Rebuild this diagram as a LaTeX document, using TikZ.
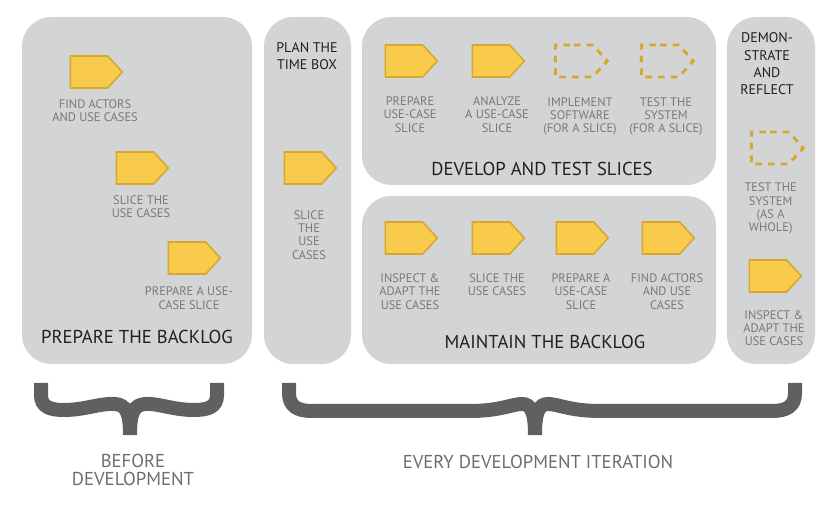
\documentclass[tikz,border=0pt]{standalone}
\usepackage{fontspec}
\setmainfont{PT Sans}
\usepackage{tikz}
\usetikzlibrary{shapes.symbols,positioning}

\definecolor{panelgray}{RGB}{211,212,214}
\definecolor{slicefill}{RGB}{249,203,77}
\definecolor{sliceedge}{RGB}{214,168,45}
\definecolor{labelgray}{RGB}{120,121,124}
\definecolor{titledark}{RGB}{35,31,32}
\definecolor{bracegray}{RGB}{96,96,99}
\definecolor{notegray}{RGB}{108,109,112}

\begin{document}
\begin{tikzpicture}[x=0.75pt,y=-0.75pt,
                    panel/.style={fill=panelgray,rounded corners=22pt},
                    bracket/.style={draw=bracegray,line width=10.5pt}]
  \tikzstyle{slice}=[signal,signal to=east,signal pointer angle=95,
                     minimum width=39pt,minimum height=24pt,inner sep=0pt,
                     fill=slicefill,draw=sliceedge,line width=1.2pt]
  \tikzstyle{todo}=[slice,fill=none,line width=2.2pt,dash pattern=on 5pt off 4.5pt]
  \tikzstyle{lbl}=[text=labelgray,font=\fontsize{9.3}{10}\selectfont,align=center,
                   inner sep=0pt,xshift=4.5pt]
  \tikzstyle{bigtitle}=[text=titledark,font=\fontsize{14}{16}\selectfont,inner sep=0pt]
  \tikzstyle{heading}=[text=titledark,font=\fontsize{10.5}{13}\selectfont,align=center,inner sep=0pt]
  \tikzstyle{note}=[text=notegray,font=\fontsize{14}{13.5}\selectfont,align=center,inner sep=0pt]

  \useasboundingbox (0,0) rectangle (833,505);

  % panels
  \fill[panel] (22,17)  rectangle (252,364);
  \fill[panel] (264,17) rectangle (351,364);
  \fill[panel] (362,17) rectangle (716,185);
  \fill[panel] (362,196) rectangle (716,364);
  \fill[panel] (727,17) rectangle (815,364);

  % prepare the backlog
  \node[slice] (pb1) at (89,72)   {};
  \node[slice] (pb2) at (135,168) {};
  \node[slice] (pb3) at (187,258) {};
  \node[lbl] (pl1) [below=8pt of pb1] {FIND ACTORS\\AND USE CASES};
  \node[lbl] (pl2) [below=8pt of pb2] {SLICE THE\\USE CASES};
  \node[lbl] (pl3) [below=9pt of pb3,xshift=-3pt] {PREPARE A USE-\\CASE SLICE};
  \node[bigtitle] (prep) at (137,337) {PREPARE THE BACKLOG};

  % plan the time box
  \node[heading] (plan) at (307,56) {PLAN THE\\TIME BOX};
  \node[slice] (tb1) at (303,168) {};
  \node[lbl] (tl1) [below=19pt of tb1] {SLICE\\THE\\USE\\CASES};

  % develop and test slices
  \node[slice] (ds1) at (404,61) {};
  \node[slice] (ds2) at (491,61) {};
  \node[todo]  (ds3) at (574,61) {};
  \node[todo]  (ds4) at (660,61) {};
  \node[lbl] (dl1) [below=14pt of ds1] {PREPARE\\USE-CASE\\SLICE};
  \node[lbl] (dl2) [below=14pt of ds2] {ANALYZE\\A USE-CASE\\SLICE};
  \node[lbl] (dl3) [below=14pt of ds3] {IMPLEMENT\\SOFTWARE\\(FOR A SLICE)};
  \node[lbl] (dl4) [below=14pt of ds4] {TEST THE\\SYSTEM\\(FOR A SLICE)};
  \node[bigtitle] (dev) at (542,169) {DEVELOP AND TEST SLICES};

  % maintain the backlog
  \node[slice] (mb1) at (404,238) {};
  \node[slice] (mb2) at (491,238) {};
  \node[slice] (mb3) at (575,238) {};
  \node[slice] (mb4) at (661,238) {};
  \node[lbl] (ml1) [below=14pt of mb1] {INSPECT \&\\ADAPT THE\\USE CASES};
  \node[lbl] (ml2) [below=14pt of mb2] {SLICE THE\\USE CASES};
  \node[lbl] (ml3) [below=14pt of mb3] {PREPARE A\\USE-CASE\\SLICE};
  \node[lbl] (ml4) [below=14pt of mb4] {FIND ACTORS\\AND USE\\CASES};
  \node[bigtitle] (maint) at (545,342) {MAINTAIN THE BACKLOG};

  % demonstrate and reflect
  \node[heading] (demo) at (767,64) {DEMON-\\STRATE\\AND\\REFLECT};
  \node[todo]  (dr1) at (770,148) {};
  \node[slice] (dr2) at (768,276) {};
  \node[lbl] (rl1) [below=13pt of dr1,xshift=-4pt] {TEST THE\\SYSTEM\\(AS A\\WHOLE)};
  \node[lbl] (rl2) [below=13pt of dr2] {INSPECT \&\\ADAPT THE\\USE CASES};

  % braces
  \draw[bracket] (41,383) -- (41,395) .. controls (41,407) and (50,410) .. (64,410)
    .. controls (85,410) and (100,403) .. (115,404) .. controls (126,405) and (130,412) .. (130,435);
  \draw[bracket] (217,383) -- (217,395) .. controls (217,407) and (208,410) .. (194,410)
    .. controls (173,410) and (158,403) .. (145,404) .. controls (134,405) and (130,412) .. (130,435);
  \draw[bracket] (289,383) -- (289,393) .. controls (289,406) and (297,411) .. (312,411) -- (470,411)
    .. controls (500,411) and (512,404) .. (522,404) .. controls (531,404) and (535,412) .. (535,435);
  \draw[bracket] (795,383) -- (795,393) .. controls (795,406) and (787,411) .. (772,411) -- (600,411)
    .. controls (570,411) and (558,404) .. (548,404) .. controls (539,404) and (535,412) .. (535,435);

  \node[note] (before) at (133,470) {BEFORE\\DEVELOPMENT};
  \node[note] (every)  at (538,462) {EVERY DEVELOPMENT ITERATION};

\end{tikzpicture}
\end{document}
